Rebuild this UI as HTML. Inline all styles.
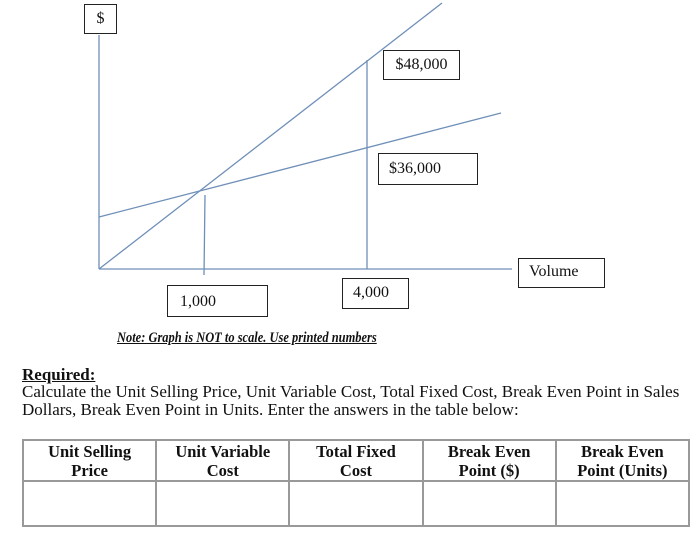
<!DOCTYPE html>
<html><head><style>
body{margin:0;width:700px;height:534px;background:#fff;font-family:"Liberation Serif",serif;color:#111;position:relative;overflow:hidden}
.b{position:absolute;border:1.5px solid #222;box-sizing:border-box;font-size:16px;background:#fff}
.t{position:absolute;font-size:17px;white-space:nowrap}
table{position:absolute;left:22px;top:439px;border-collapse:collapse;width:668px}
td{border:2px solid #999;width:20%;text-align:center;font-weight:bold;font-size:16.5px;line-height:19px;padding:0}
</style></head><body>
<svg width="700" height="330" style="position:absolute;left:0;top:0">
<g stroke="#6f8fb8" stroke-width="1.3" fill="none">
<line x1="99" y1="35" x2="99" y2="269"/>
<line x1="99" y1="269" x2="512" y2="269"/>
<line x1="99" y1="269" x2="442" y2="3"/>
<line x1="99" y1="217" x2="501" y2="113"/>
<line x1="205" y1="195" x2="204" y2="275"/>
<line x1="367" y1="60" x2="367" y2="269"/>
</g></svg>
<div class="b" style="left:84px;top:4px;width:33px;height:30px;text-align:center;line-height:28px">$</div>
<div class="b" style="left:383px;top:50px;width:77px;height:30px;text-align:center;line-height:28px">$48,000</div>
<div class="b" style="left:378px;top:153px;width:100px;height:32px;padding-left:10px;line-height:30px">$36,000</div>
<div class="b" style="left:167px;top:285px;width:101px;height:32px;padding-left:12px;line-height:32px">1,000</div>
<div class="b" style="left:342px;top:278px;width:67px;height:31px;padding-left:10px;line-height:28px">4,000</div>
<div class="b" style="left:518px;top:258px;width:87px;height:30px;padding-left:10px;line-height:26px">Volume</div>
<div class="t" style="left:117px;top:330px;font-weight:bold;font-style:italic;text-decoration:underline;font-size:15px;transform:scaleX(0.83);transform-origin:0 0">Note: Graph is NOT to scale. Use printed numbers</div>
<div class="t" style="left:22px;top:365px;font-weight:bold;text-decoration:underline">Required:</div>
<div class="t" style="left:22px;top:382px">Calculate the Unit Selling Price, Unit Variable Cost, Total Fixed Cost, Break Even Point in Sales</div>
<div class="t" style="left:22px;top:400px">Dollars, Break Even Point in Units. Enter the answers in the table below:</div>
<table><tr style="height:41px"><td>Unit Selling<br>Price</td><td>Unit Variable<br>Cost</td><td>Total Fixed<br>Cost</td><td>Break Even<br>Point ($)</td><td>Break Even<br>Point (Units)</td></tr>
<tr style="height:45px"><td></td><td></td><td></td><td></td><td></td></tr></table>
</body></html>
